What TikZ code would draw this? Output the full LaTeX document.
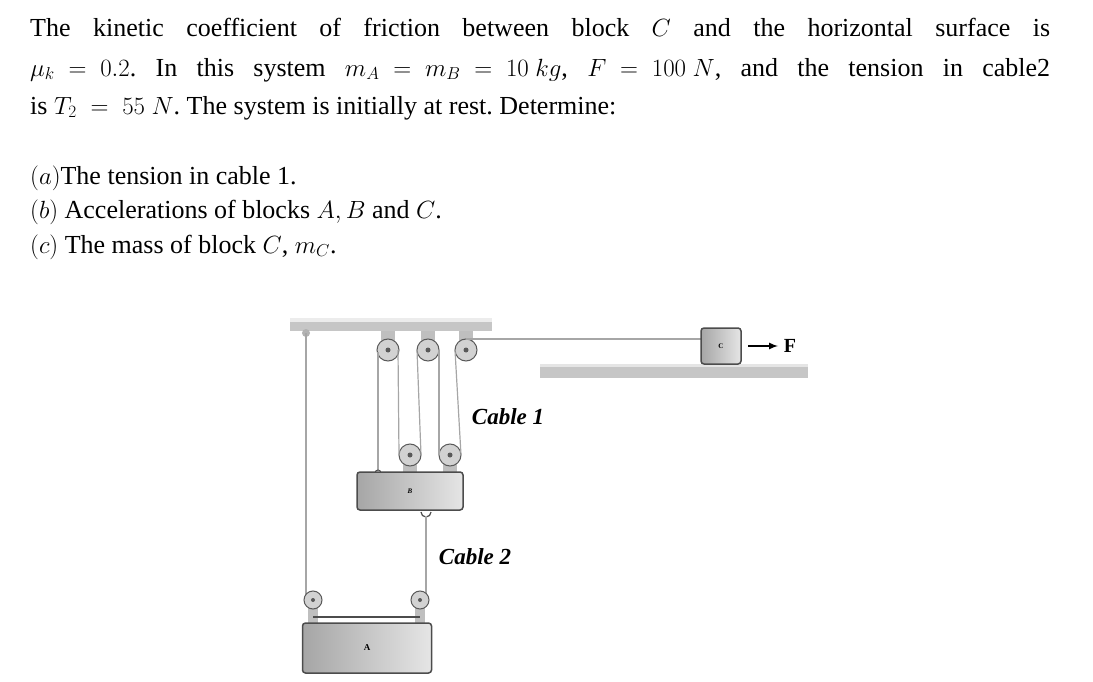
\documentclass[tikz,border=0pt]{standalone}
\usepackage{fontspec}
\setmainfont{Liberation Serif}
\frenchspacing
\begin{document}
\begin{tikzpicture}[x=1pt,y=-1pt,
  txt/.style={anchor=west,inner sep=0,font=\fontsize{26}{30}\selectfont},
  lbl/.style={font=\bfseries\itshape\fontsize{23}{26}\selectfont},
  rope/.style={draw=gray!70,line width=1.2pt},
  pul/.style={circle,draw=gray!70!black,line width=1pt,fill=gray!35,minimum size=#1,inner sep=0},
  blk/.style={draw=gray!60!black,line width=1.5pt,rounded corners=3pt,left color=gray!70,right color=gray!20}]
\useasboundingbox (0,0) rectangle (1093,682);
\node[txt] (l1) at (30,27) {\makebox[1020pt][s]{The kinetic coefficient of friction between block \mbox{$C$} and the horizontal surface is}};
\node[txt] (l2) at (30,70) {\makebox[1020pt][s]{\mbox{$\mu_k\;=\;0.2$}. In this system \mbox{$m_A\;=\;m_B\;=\;10\ kg$}, \mbox{$F\;=\;100\ N$}, and the tension in cable2}};
\node[txt] (l3) at (30,108) {is \mbox{$T_2\;=\;55\ N$}. The system is initially at rest. Determine:};
\node[txt] (l4) at (30,178) {$(a)$The tension in cable 1.};
\node[txt] (l5) at (30,212) {$(b)$ Accelerations of blocks $A, B$ and $C$.};
\node[txt] (l6) at (30,247) {$(c)$ The mass of block $C$, $m_C$.};
% ceiling and surface
\fill[gray!45] (290,318) rectangle (492,331);
\fill[gray!15] (290,318) rectangle (492,322);
\fill[gray!45] (540,364) rectangle (808,378);
\fill[gray!20] (540,364) rectangle (808,367);
% top pulleys
\foreach \n/\x in {p1/388,p2/428,p3/466}{
  \fill[gray!50] (\x-7,331) rectangle (\x+7,350);
  \node[pul=22pt] (\n) at (\x,350) {};
  \fill[gray!70!black] (\x,350) circle (2.5pt);
}
% B pulleys
\foreach \n/\x in {q1/410,q2/450}{
  \fill[gray!50] (\x-7,455) rectangle (\x+7,474);
  \node[pul=22pt] (\n) at (\x,455) {};
  \fill[gray!70!black] (\x,455) circle (2.5pt);
}
% ropes cable 1
\draw[rope] (378,352) -- (378,470);
\draw[gray!60!black,line width=1pt] (378,473) circle (3pt);
\draw[rope] (398,350) -- (399,455);
\draw[rope] (421,455) -- (417,350);
\draw[rope] (439,350) -- (439,455);
\draw[rope] (461,455) -- (455,350);
\draw[rope] (466,339) -- (703,339);
% block C
\node[blk,minimum width=40pt,minimum height=36pt,font=\bfseries\scriptsize] (C) at (721,346) {C};
\coordinate (Ca) at (748,346);
\coordinate (Cb) at (778,346);
\draw[-latex,line width=2pt] (Ca) -- (Cb);
\node[font=\bfseries\fontsize{20}{22}\selectfont] (F) at (790,346) {F};
% block B
\node[blk,minimum width=106pt,minimum height=38pt,font=\bfseries\itshape\scriptsize] (B) at (410,491) {B};
\draw[gray!60!black,line width=1.2pt] (421,512) arc (180:360:5pt);
% left cable from ceiling
\fill[gray!60] (306,333) circle (4pt);
\draw[rope] (306,333) -- (306,600);
% cable 2
\draw[rope,line width=1.8pt] (426,516) -- (426,598);
% A pulleys
\foreach \n/\x in {a1/313,a2/420}{
  \fill[gray!50] (\x-5,600) rectangle (\x+5,624);
  \node[pul=18pt] (\n) at (\x,600) {};
  \fill[gray!70!black] (\x,600) circle (2pt);
}
\draw[gray!60!black,line width=2pt] (313,617) -- (420,617);
\node[blk,minimum width=129pt,minimum height=50pt,font=\bfseries\small] (A) at (367,648) {A};
\node[lbl] (c1) at (508,417) {Cable 1};
\node[lbl] (c2) at (475,557) {Cable 2};
\end{tikzpicture}
\end{document}
